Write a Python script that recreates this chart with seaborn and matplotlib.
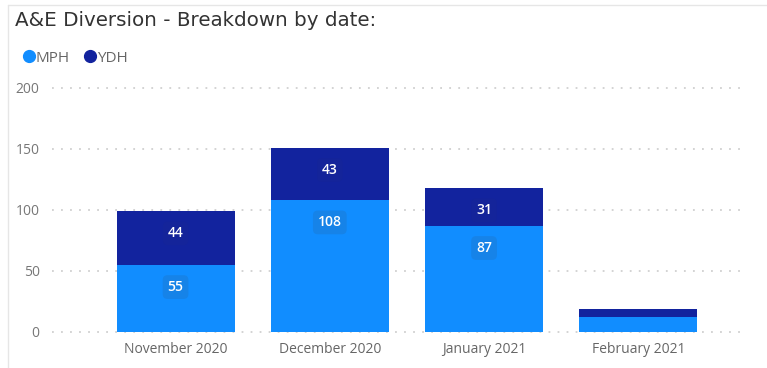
import matplotlib
matplotlib.use("Agg")
import matplotlib.pyplot as plt
import pandas as pd
import seaborn as sns
from matplotlib.lines import Line2D

months = ["November 2020", "December 2020", "January 2021", "February 2021"]
mph = [55, 108, 87, 12]
ydh = [44, 43, 31, 7]
show_labels = [True, True, True, False]

mph_color = "#118DFF"
ydh_color = "#12239E"

df = pd.DataFrame({"month": months, "MPH": mph, "YDH": ydh})
df["total"] = df["MPH"] + df["YDH"]

sns.set_style("white")
plt.rcParams["font.family"] = ["Open Sans", "DejaVu Sans"]

fig = plt.figure(figsize=(7.67, 3.68), dpi=100)
ax = fig.add_axes([0.068, 0.098, 0.903, 0.663])

# stacked bars: total in dark blue, MPH over it
sns.barplot(data=df, x="month", y="total", color=ydh_color, width=0.765,
            saturation=1, linewidth=0, ax=ax, zorder=2)
sns.barplot(data=df, x="month", y="MPH", color=mph_color, width=0.765,
            saturation=1, linewidth=0, ax=ax, zorder=3)

ax.set_ylim(0, 200)
ax.set_xlim(-0.80, 3.69)
ax.set_yticks([0, 50, 100, 150, 200])
ax.set_xlabel("")
ax.set_ylabel("")
for s in ax.spines.values():
    s.set_visible(False)
ax.yaxis.grid(True, color="#D0D0D0", linestyle=(0, (1, 4)), linewidth=1.3, zorder=0)
ax.set_axisbelow(True)
for gl in ax.get_ygridlines():
    gl.set_clip_on(False)
ax.tick_params(axis="y", length=0, pad=9, labelsize=10, labelcolor="#777777")
ax.tick_params(axis="x", length=0, pad=7, labelsize=10, labelcolor="#666666")

# data labels, placed just inside the top of each segment
for i, row in df.iterrows():
    if not show_labels[i]:
        continue
    ax.annotate(str(row["MPH"]), (i, row["MPH"]), xytext=(0, -16),
                textcoords="offset points", ha="center", va="center",
                color="white", fontsize=10, fontweight="semibold", zorder=5,
                bbox=dict(boxstyle="round,pad=0.35", fc="#1683E8", ec="none"))
    ax.annotate(str(row["YDH"]), (i, row["total"]), xytext=(0, -16),
                textcoords="offset points", ha="center", va="center",
                color="white", fontsize=10, fontweight="semibold", zorder=5,
                bbox=dict(boxstyle="round,pad=0.35", fc="#14249A", ec="none"))

fig.text(0.02, 0.945, "A&E Diversion - Breakdown by date:", fontsize=14.3,
         color="#333333", va="center", ha="left", family="DejaVu Sans")

# legend
handles = [Line2D([], [], marker="o", linestyle="", color=mph_color, markersize=8.5),
           Line2D([], [], marker="o", linestyle="", color=ydh_color, markersize=8.5)]
fig.legend(handles, ["MPH", "YDH"], loc="center left", bbox_to_anchor=(0.008, 0.842),
           ncol=2, frameon=False, handletextpad=-0.15, columnspacing=0.7,
           fontsize=11, labelcolor="#666666", handlelength=1.2)

# panel frame
fig.add_artist(Line2D([0.0104, 0.0104], [0.0, 0.986], color="#E6E6E6", lw=1))
fig.add_artist(Line2D([0.0104, 1.0], [0.986, 0.986], color="#E6E6E6", lw=1))

fig.savefig("out.png", dpi=100, facecolor="white")
